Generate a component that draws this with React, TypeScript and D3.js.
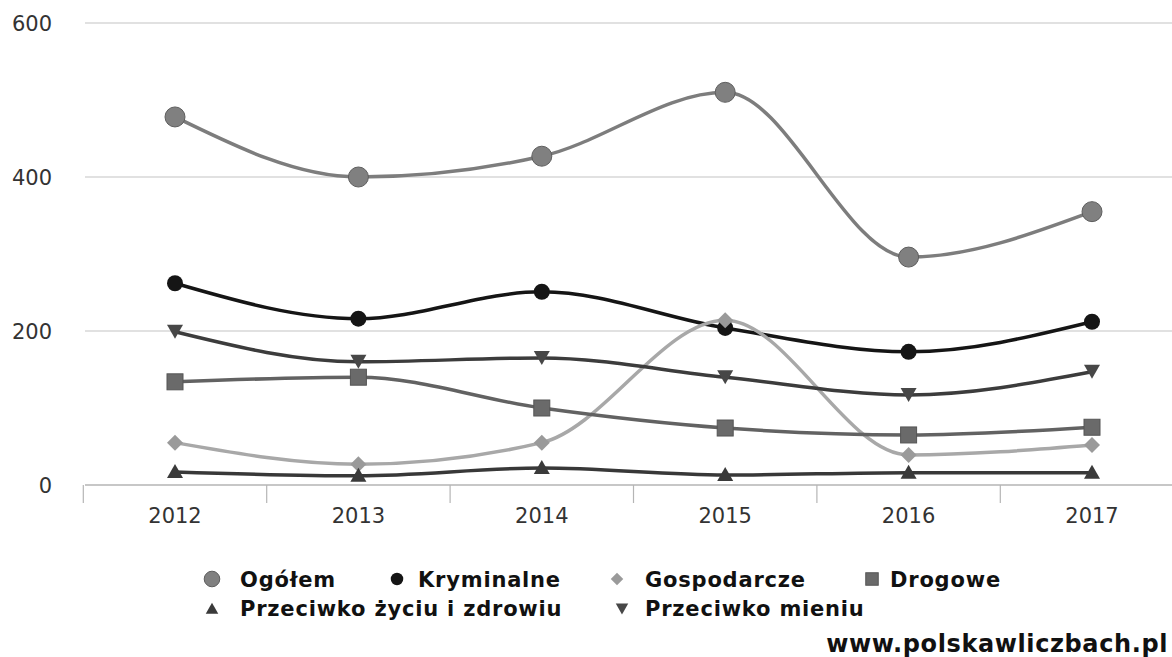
import * as d3 from "d3";

const WIDTH = 1172;
const HEIGHT = 657;

const years = ["2012", "2013", "2014", "2015", "2016", "2017"];
const yTicks = [0, 200, 400, 600];

const ogolem = [478, 400, 427, 510, 296, 355];
const kryminalne = [262, 216, 251, 204, 173, 212];
const gospodarcze = [55, 27, 55, 214, 39, 52];
const drogowe = [134, 140, 100, 74, 65, 75];
const zycie = [17, 12, 22, 13, 16, 16];
const mienie = [199, 160, 165, 140, 117, 147];

type Series = {
  name: string;
  values: number[];
  color: string;
  fill: string;
  marker: "circle" | "bigcircle" | "diamond" | "square" | "up" | "down";
};

const series: Series[] = [
  { name: "Ogółem", values: ogolem, color: "#7d7d7d", fill: "#808080", marker: "bigcircle" },
  { name: "Kryminalne", values: kryminalne, color: "#151515", fill: "#151515", marker: "circle" },
  { name: "Gospodarcze", values: gospodarcze, color: "#a8a8a8", fill: "#9a9a9a", marker: "diamond" },
  { name: "Drogowe", values: drogowe, color: "#626262", fill: "#6a6a6a", marker: "square" },
  { name: "Przeciwko życiu i zdrowiu", values: zycie, color: "#383838", fill: "#3a3a3a", marker: "up" },
  { name: "Przeciwko mieniu", values: mienie, color: "#3c3c3c", fill: "#474747", marker: "down" },
];

const FONT = "'DejaVu Sans', Verdana, sans-serif";

const Marker = ({ kind, x, y, fill, scale = 1 }: { kind: Series["marker"]; x: number; y: number; fill: string; scale?: number }) => {
  const s = scale;
  switch (kind) {
    case "bigcircle":
      return <circle cx={x} cy={y} r={10 * s} fill={fill} stroke="#5e5e5e" strokeWidth={1} />;
    case "circle":
      return <circle cx={x} cy={y} r={8 * s} fill={fill} />;
    case "diamond":
      return <path d={`M${x},${y - 8 * s}L${x + 8 * s},${y}L${x},${y + 8 * s}L${x - 8 * s},${y}Z`} fill={fill} />;
    case "square":
      return <rect x={x - 8 * s} y={y - 8 * s} width={16 * s} height={16 * s} fill={fill} stroke="#555" strokeWidth={1} />;
    case "up":
      return <path d={`M${x},${y - 8 * s}L${x + 8 * s},${y + 6 * s}L${x - 8 * s},${y + 6 * s}Z`} fill={fill} />;
    case "down":
      return <path d={`M${x - 8 * s},${y - 7 * s}L${x + 8 * s},${y - 7 * s}L${x},${y + 7 * s}Z`} fill={fill} />;
  }
};

export default function App() {
  const xScale = d3.scaleBand().domain(years).range([83.3, 83.3 + 183.4 * 6]);
  const yScale = d3.scaleLinear().domain([0, 600]).range([485, 23]);
  const cx = (y: string) => (xScale(y) ?? 0) + xScale.bandwidth() / 2;

  const line = d3
    .line<number>()
    .x((_, i) => cx(years[i]))
    .y((d) => yScale(d))
    .curve(d3.curveMonotoneX);

  const legendRows = [
    [
      { s: series[0], mx: 212, tx: 240 },
      { s: series[1], mx: 397, tx: 418 },
      { s: series[2], mx: 617, tx: 645 },
      { s: series[3], mx: 872, tx: 890 },
    ],
    [
      { s: series[4], mx: 212, tx: 240 },
      { s: series[5], mx: 622, tx: 645 },
    ],
  ];

  return (
    <svg
      width={WIDTH}
      height={HEIGHT}
      style={{ position: "absolute", left: 0, top: 0, background: "#fff" }}
      fontFamily={FONT}
    >
      {/* grid + y labels */}
      {yTicks.map((t) => (
        <g key={t}>
          {t > 0 && <line x1={85} x2={WIDTH} y1={yScale(t)} y2={yScale(t)} stroke="#c4c4c4" strokeWidth={1.2} />}
          <text x={52} y={yScale(t) + 8} textAnchor="end" fontSize={21} fill="#333">
            {t}
          </text>
        </g>
      ))}

      {/* x axis */}
      <line x1={85} x2={WIDTH} y1={yScale(0)} y2={yScale(0)} stroke="#b5b5b5" strokeWidth={1.5} />
      {years.map((y) => (
        <g key={y}>
          <line
            x1={xScale(y)}
            x2={xScale(y)}
            y1={yScale(0)}
            y2={yScale(0) + 18}
            stroke="#b5b5b5"
            strokeWidth={1.2}
          />
          <text x={cx(y)} y={523} textAnchor="middle" fontSize={21} fill="#333">
            {y}
          </text>
        </g>
      ))}

      {/* lines */}
      {series.map((s) => (
        <path key={s.name} d={line(s.values) ?? ""} fill="none" stroke={s.color} strokeWidth={3.5} />
      ))}

      {/* markers */}
      {series.map((s) =>
        s.values.map((v, i) => (
          <Marker key={s.name + i} kind={s.marker} x={cx(years[i])} y={yScale(v)} fill={s.fill} />
        ))
      )}

      {/* legend */}
      {legendRows.map((row, ri) =>
        row.map(({ s, mx, tx }) => (
          <g key={s.name}>
            <Marker kind={s.marker} x={mx} y={579 + ri * 30} fill={s.fill} scale={0.78} />
            <text x={tx} y={587 + ri * 29} fontSize={21} letterSpacing={0.8} fontWeight="bold" fill="#111">
              {s.name}
            </text>
          </g>
        ))
      )}

      <text x={1168} y={652} textAnchor="end" fontSize={24} letterSpacing={0.6} fontWeight="bold" fill="#111">
        www.polskawliczbach.pl
      </text>
    </svg>
  );
}
